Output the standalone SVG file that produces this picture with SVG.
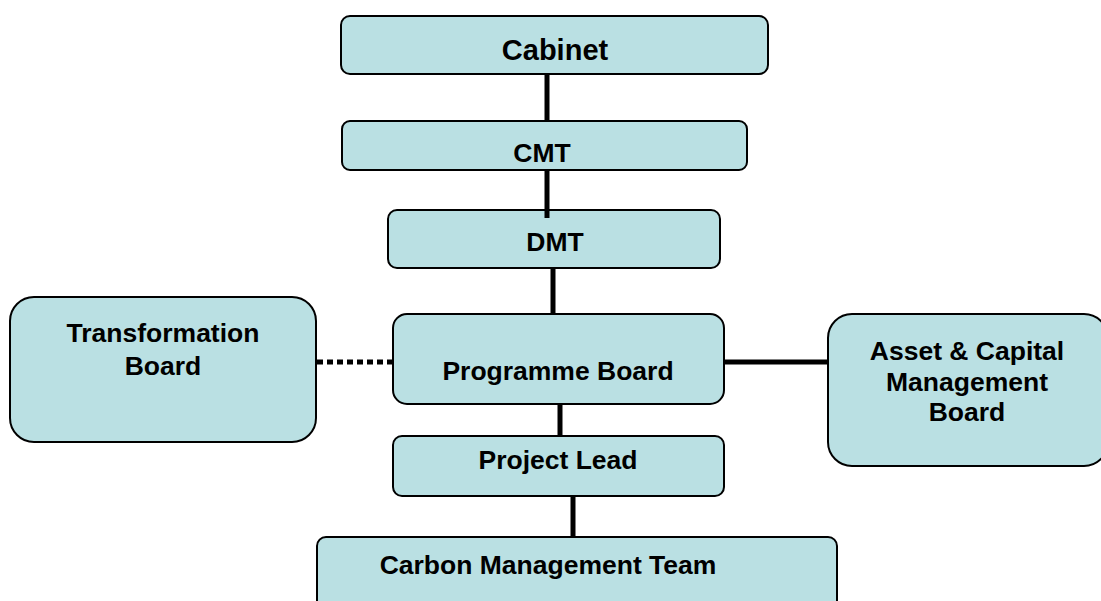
<svg xmlns="http://www.w3.org/2000/svg" width="1101" height="601" viewBox="0 0 1101 601">
  <style>
    .box { fill: #BAE0E3; stroke: #000; stroke-width: 2; }
    .lbl { font-family: "Liberation Sans", Arial, sans-serif; font-weight: bold; font-size: 26.5px; fill: #000; text-anchor: middle; }
    .link { stroke: #000; stroke-width: 5; fill: none; }
    .dotted { stroke-dasharray: 6 4; }
  </style>
  <rect width="1101" height="601" fill="#fff"/>

  <g id="cabinet">
    <rect class="box" x="341" y="16" width="427" height="58" rx="9"/>
    <text class="lbl" x="555" y="60" style="font-size:29px">Cabinet</text>
  </g>
  <g id="cmt">
    <rect class="box" x="342" y="121" width="405" height="49" rx="8"/>
    <text class="lbl" x="542" y="162">CMT</text>
  </g>
  <g id="dmt">
    <rect class="box" x="388" y="210" width="332" height="58" rx="9"/>
    <text class="lbl" x="555" y="251">DMT</text>
  </g>
  <g id="transformation-board">
    <rect class="box" x="10" y="297" width="306" height="145" rx="24"/>
    <text class="lbl" x="163" y="342">Transformation</text>
    <text class="lbl" x="163" y="375">Board</text>
  </g>
  <g id="programme-board">
    <rect class="box" x="393" y="314" width="331" height="90" rx="14"/>
    <text class="lbl" x="558" y="380">Programme Board</text>
  </g>
  <g id="asset-capital-board">
    <rect class="box" x="828" y="314" width="280" height="152" rx="24"/>
    <text class="lbl" x="967" y="360">Asset &amp; Capital</text>
    <text class="lbl" x="967" y="391">Management</text>
    <text class="lbl" x="967" y="421">Board</text>
  </g>
  <g id="project-lead">
    <rect class="box" x="393" y="436" width="331" height="60" rx="9"/>
    <text class="lbl" x="558" y="469">Project Lead</text>
  </g>
  <g id="carbon-management-team">
    <rect class="box" x="317" y="537" width="520" height="90" rx="9"/>
    <text class="lbl" x="548" y="574">Carbon Management Team</text>
  </g>

  <g id="connectors">
    <line class="link" x1="547" y1="74" x2="547" y2="121"/>
    <line class="link" x1="547" y1="170" x2="547" y2="218"/>
    <line class="link" x1="553" y1="268" x2="553" y2="314"/>
    <line class="link dotted" x1="317" y1="362" x2="393" y2="362"/>
    <line class="link" x1="724" y1="362" x2="828" y2="362"/>
    <line class="link" x1="560" y1="404" x2="560" y2="436"/>
    <line class="link" x1="573" y1="496" x2="573" y2="537"/>
  </g>
</svg>
